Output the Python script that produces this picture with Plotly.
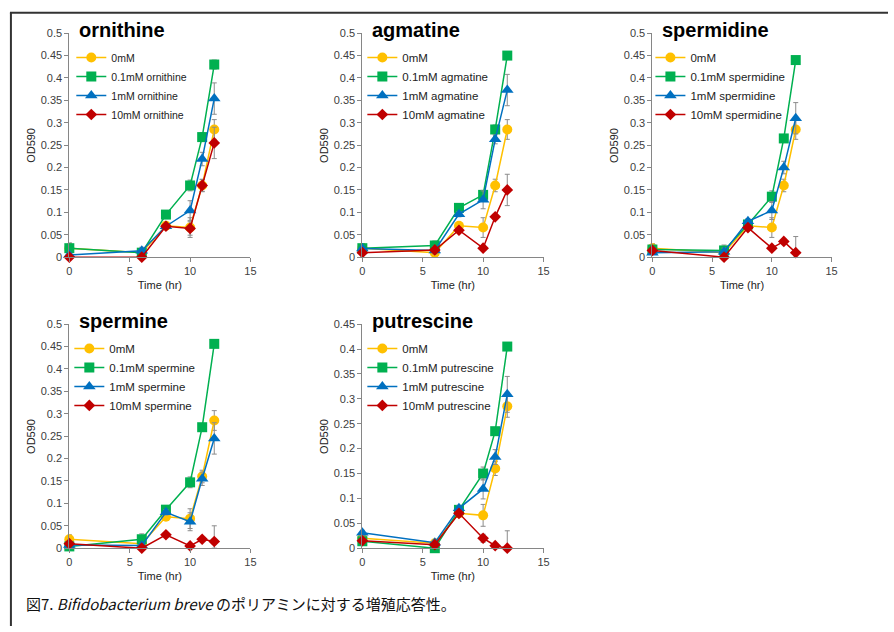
import plotly.graph_objects as go
import numpy as np

W, H = 894, 632

time_hr = [0, 6, 8, 10, 11, 12]

# control (0mM), shared by all panels
ctrl_y = [0.02, 0.01, 0.07, 0.066, 0.16, 0.285]
ctrl_e = [0.01, 0.005, 0.005, 0.022, 0.014, 0.022]

ornithine_01_y = [0.02, 0.01, 0.095, 0.16, 0.268, 0.43]
ornithine_01_e = [0.012, 0.005, 0.005, 0.012, 0.01, 0.01]
ornithine_1_y = [0.005, 0.014, 0.069, 0.104, 0.219, 0.354]
ornithine_1_e = [0.003, 0.008, 0.006, 0.022, 0.015, 0.035]
ornithine_10_y = [0.0, 0.0, 0.069, 0.064, 0.16, 0.255]
ornithine_10_e = [0.0, 0.0, 0.005, 0.015, 0.013, 0.035]

agmatine_01_y = [0.02, 0.026, 0.11, 0.139, 0.285, 0.45]
agmatine_01_e = [0.01, 0.01, 0.005, 0.01, 0.01, 0.005]
agmatine_1_y = [0.019, 0.015, 0.096, 0.128, 0.263, 0.373]
agmatine_1_e = [0.005, 0.008, 0.006, 0.02, 0.01, 0.035]
agmatine_10_y = [0.01, 0.016, 0.06, 0.02, 0.09, 0.15]
agmatine_10_e = [0.003, 0.005, 0.005, 0.005, 0.005, 0.035]

spermidine_01_y = [0.017, 0.015, 0.073, 0.135, 0.265, 0.44]
spermidine_01_e = [0.005, 0.012, 0.005, 0.013, 0.005, 0.005]
spermidine_1_y = [0.01, 0.012, 0.08, 0.104, 0.2, 0.31]
spermidine_1_e = [0.003, 0.008, 0.006, 0.02, 0.014, 0.035]
spermidine_10_y = [0.015, 0.0, 0.066, 0.02, 0.035, 0.01]
spermidine_10_e = [0.003, 0.0, 0.005, 0.005, 0.005, 0.036]

spermine_01_y = [0.004, 0.02, 0.086, 0.147, 0.27, 0.456]
spermine_01_e = [0.003, 0.012, 0.005, 0.012, 0.005, 0.005]
spermine_1_y = [0.007, 0.006, 0.08, 0.059, 0.155, 0.245]
spermine_1_e = [0.003, 0.005, 0.006, 0.02, 0.015, 0.035]
spermine_10_y = [0.01, 0.0, 0.03, 0.005, 0.02, 0.015]
spermine_10_e = [0.003, 0.0, 0.003, 0.003, 0.003, 0.035]

putrescine_01_y = [0.014, 0.0, 0.077, 0.15, 0.235, 0.405]
putrescine_01_e = [0.005, 0.003, 0.005, 0.013, 0.005, 0.005]
putrescine_1_y = [0.031, 0.011, 0.08, 0.119, 0.183, 0.309]
putrescine_1_e = [0.005, 0.005, 0.006, 0.02, 0.015, 0.036]
putrescine_10_y = [0.015, 0.007, 0.07, 0.02, 0.005, 0.0]
putrescine_10_e = [0.003, 0.003, 0.005, 0.008, 0.003, 0.035]

x_ticks = [0, 5, 10, 15]
y_ticks_05 = [0, 0.05, 0.1, 0.15, 0.2, 0.25, 0.3, 0.35, 0.4, 0.45, 0.5]
y_labels_05 = ["0", "0.05", "0.1", "0.15", "0.2", "0.25", "0.3", "0.35", "0.4", "0.45", "0.5"]
y_ticks_045 = y_ticks_05[:-1]
y_labels_045 = y_labels_05[:-1]

panels = [
    dict(name="ornithine", series=[(ornithine_01_y, ornithine_01_e), (ornithine_1_y, ornithine_1_e), (ornithine_10_y, ornithine_10_e)],
         px=(67, 250), py=(27.7, 256), ymax=0.5, legfont=10.5, legdx=2),
    dict(name="agmatine", series=[(agmatine_01_y, agmatine_01_e), (agmatine_1_y, agmatine_1_e), (agmatine_10_y, agmatine_10_e)],
         px=(363, 546), py=(27.7, 256), ymax=0.5, legfont=11.5, legdx=0),
    dict(name="spermidine", series=[(spermidine_01_y, spermidine_01_e), (spermidine_1_y, spermidine_1_e), (spermidine_10_y, spermidine_10_e)],
         px=(656, 837), py=(27.7, 256), ymax=0.5, legfont=11.5, legdx=-2),
    dict(name="spermine", series=[(spermine_01_y, spermine_01_e), (spermine_1_y, spermine_1_e), (spermine_10_y, spermine_10_e)],
         px=(67, 250), py=(324.3, 552.7), ymax=0.5, legfont=11.5, legdx=0),
    dict(name="putrescine", series=[(putrescine_01_y, putrescine_01_e), (putrescine_1_y, putrescine_1_e), (putrescine_10_y, putrescine_10_e)],
         px=(363, 546), py=(324.3, 552.7), ymax=0.45, legfont=11.5, legdx=0),
]

colors = ["#FFC000", "#00B050", "#0070C0", "#C00000"]
symbols = ["circle", "square", "triangle-up", "diamond"]
msizes = [10, 10, 11, 9]
prefixes = ["0mM", "0.1mM ", "1mM ", "10mM "]

fig = go.Figure()
font_family = "Liberation Sans, Arial, sans-serif"
axis_col = "#868686"
tick_col = "#404040"

for i, p in enumerate(panels):
    k = "" if i == 0 else str(i + 1)
    leg = "legend" + k
    all_series = [(ctrl_y, ctrl_e)] + p["series"]
    for j, (yv, ev) in enumerate(all_series):
        yv = np.array(yv)
        ev = np.array(ev)
        nm = prefixes[j] if j == 0 else prefixes[j] + p["name"]
        fig.add_trace(go.Scatter(
            x=time_hr, y=yv, name=nm, mode="lines+markers",
            xaxis="x" + k, yaxis="y" + k, legend=leg,
            line=dict(color=colors[j], width=1.5),
            marker=dict(symbol=symbols[j], size=msizes[j], color=colors[j]),
            error_y=dict(type="data", symmetric=False, array=ev, arrayminus=np.minimum(ev, yv),
                         color="#8c8c8c", thickness=1, width=2.5),
            cliponaxis=False,
        ))
    x0, x1 = p["px"]
    yt, yb = p["py"]
    ymax = p["ymax"]
    tv = y_ticks_05 if ymax == 0.5 else y_ticks_045
    tl = y_labels_05 if ymax == 0.5 else y_labels_045
    fig.update_layout(**{
        "xaxis" + k: dict(domain=[x0 / W, x1 / W], anchor="y" + k, range=[0, 15],
                          tickvals=x_ticks, showline=True, linecolor=axis_col, linewidth=1,
                          ticks="outside", ticklen=4, tickcolor=axis_col, showgrid=False, zeroline=False,
                          tickfont=dict(size=11, color=tick_col, family=font_family),
                          title=dict(text="Time (hr)", font=dict(size=11, color="#222", family=font_family), standoff=4)),
        "yaxis" + k: dict(domain=[1 - yb / H, 1 - yt / H], anchor="x" + k, range=[0, ymax],
                          tickvals=tv, ticktext=tl, showline=True, linecolor=axis_col, linewidth=1,
                          ticks="outside", ticklen=4, tickcolor=axis_col, showgrid=False, zeroline=False,
                          tickfont=dict(size=11, color=tick_col, family=font_family)),
        leg: dict(x=(x0 + p["legdx"]) / W, y=1 - (yt + 10) / H, xanchor="left", yanchor="top",
                  bgcolor="rgba(0,0,0,0)", font=dict(size=p["legfont"], color="#222", family=font_family),
                  itemwidth=30, tracegroupgap=0),
    })
    # y-axis title
    fig.add_annotation(x=(x0 - 39) / W, y=1 - (yt + yb) / 2 / H, xref="paper", yref="paper",
                       text="OD590", textangle=-90, showarrow=False, xanchor="center", yanchor="middle",
                       font=dict(size=11, color="#222", family=font_family))
    # panel title
    fig.add_annotation(x=(x0 + 8) / W, y=1 - (yt - 3) / H, xref="paper", yref="paper",
                       text="<b>" + p["name"] + "</b>", showarrow=False, xanchor="left", yanchor="middle",
                       font=dict(size=20, color="#000", family=font_family))

fig.add_annotation(x=21 / W, y=1 - 609 / H, xref="paper", yref="paper", xanchor="left", yanchor="middle",
                   text="図7. <i>Bifidobacterium breve</i> のポリアミンに対する増殖応答性。", showarrow=False,
                   font=dict(size=15, color="#111", family="Noto Sans CJK JP, sans-serif"))

fig.add_shape(type="line", xref="paper", yref="paper", x0=7 / W, x1=1, y0=1 - 7 / H, y1=1 - 7 / H,
              line=dict(color="#333", width=2))
fig.add_shape(type="line", xref="paper", yref="paper", x0=8 / W, x1=8 / W, y0=0, y1=1 - 7 / H,
              line=dict(color="#333", width=2))

fig.update_layout(width=W, height=H, margin=dict(l=0, r=0, t=0, b=0),
                  paper_bgcolor="white", plot_bgcolor="white", showlegend=True,
                  font=dict(family=font_family))

fig.write_html("out.html")
